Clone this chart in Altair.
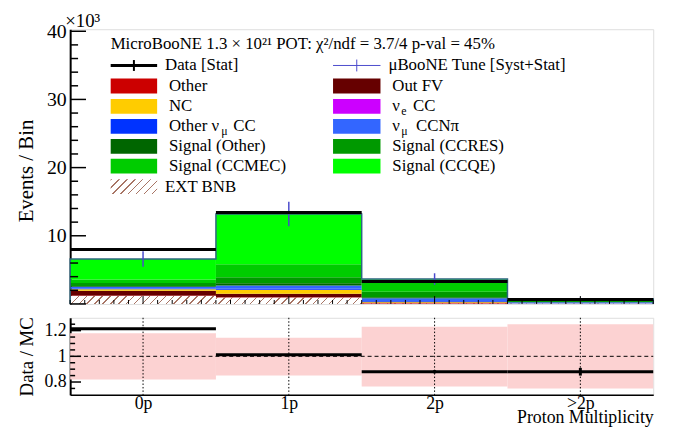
import json
import altair as alt
import pandas as pd

FONT = "Liberation Serif"

# ---------------- data ----------------
categories = ["0p", "1p", "2p", ">2p"]
bin_lo = [0, 1, 2, 3]
bin_hi = [1, 2, 3, 4]
bin_center = [0.5, 1.5, 2.5, 3.5]

# stacked MC components (x10^3 events), bottom to top
comp_names = ["EXT BNB", "Other", "Out FV", "NC", "nue CC", "Other numu CC",
              "numu CCNpi", "Signal (Other)", "Signal (CCRES)", "Signal (CCMEC)",
              "Signal (CCQE)"]
comp_colors = ["#ffffff", "#cc0000", "#660000", "#ffcc00", "#cc00ff", "#0033ff",
               "#3366ff", "#006600", "#009900", "#00cc00", "#00ff00"]
ext_bnb = [1.15, 0.90, 0.02, 0.01]
other = [0.10, 0.10, 0.12, 0.03]
out_fv = [0.70, 0.50, 0.08, 0.02]
nc = [0.20, 0.55, 0.10, 0.02]
nue_cc = [0.02, 0.02, 0.01, 0.00]
other_numu_cc = [0.10, 0.15, 0.10, 0.03]
numu_ccnpi = [0.25, 0.50, 0.40, 0.12]
sig_other = [0.10, 0.30, 0.15, 0.05]
sig_ccres = [0.47, 0.90, 0.80, 0.20]
sig_ccmec = [0.50, 1.90, 1.80, 0.25]
sig_ccqe = [3.00, 7.38, 0.07, 0.01]
comp_values = [ext_bnb, other, out_fv, nc, nue_cc, other_numu_cc, numu_ccnpi,
               sig_other, sig_ccres, sig_ccmec, sig_ccqe]

data_counts = [8.0, 13.4, 3.3, 0.66]
mc_err = [1.15, 1.80, 0.85, 0.18]

ratio = [1.215, 1.013, 0.88, 0.88]
ratio_err = [0.008, 0.006, 0.012, 0.03]
band_lo = [0.82, 0.85, 0.765, 0.75]
band_hi = [1.18, 1.145, 1.23, 1.25]

y_labels_top = [10, 20, 30, 40]
y_major_top = [0, 10, 20, 30, 40]
y_major_bot = [0.8, 1.0, 1.2]

# ---------------- layout ----------------
W = 590
TOP_H = 278
BOT_H = 78
YMAX = 40.3
RMIN, RMAX = 0.7, 1.3

xs = alt.Scale(domain=[0, 4], nice=False, zero=False)
ys = alt.Scale(domain=[0, YMAX], nice=False, zero=False)
rs = alt.Scale(domain=[RMIN, RMAX], nice=False, zero=False)

top_axis = alt.Axis(values=y_labels_top, ticks=False, grid=False, labelFont=FONT,
                    labelFontSize=20, labelPadding=4, labelColor="black",
                    domainColor="black", domainWidth=2,
                    title="Events / Bin", titleFont=FONT, titleFontSize=21,
                    titleFontWeight="normal", titleColor="black",
                    titleX=-44, titleY=143, titleBaseline="middle", titleAngle=270)
bot_axis = alt.Axis(values=y_major_bot, ticks=False, grid=False, labelFont=FONT,
                    labelFontSize=18, labelPadding=4, format="~g", labelColor="black",
                    domainColor="black", domainWidth=2,
                    title="Data / MC", titleFont=FONT, titleFontSize=19,
                    titleFontWeight="normal", titleColor="black",
                    titleX=-44, titleY=BOT_H / 2, titleBaseline="middle", titleAngle=270)
label_expr = json.dumps(categories) + "[floor(datum.value)]"
bot_xaxis = alt.Axis(values=bin_center, labelExpr=label_expr, ticks=False, grid=False,
                     labelFont=FONT, labelFontSize=18, labelPadding=0, labelColor="black",
                     domainColor="black", domainWidth=1.5,
                     title="Proton Multiplicity", titleFont=FONT, titleFontSize=18,
                     titleFontWeight="normal", titleColor="black",
                     titleX=W, titleY=28, titleAlign="right", titleBaseline="alphabetic")


def XT(f):
    return alt.X(f, type="quantitative", scale=xs, axis=None)


def YT(f):
    return alt.Y(f, type="quantitative", scale=ys, axis=top_axis)


def XB(f):
    return alt.X(f, type="quantitative", scale=xs, axis=bot_xaxis)


def YB(f):
    return alt.Y(f, type="quantitative", scale=rs, axis=bot_axis)


def hatch(Wpx, Hpx, period=8.0, frac=0.18, color="#a87565"):
    r = Hpx / Wpx
    s = (1 + r) / (1 + r * r)
    n = Wpx * (1 + r) / period
    stops = []
    k = 0
    while k / n < 1:
        t0 = k / n
        t1 = min((k + frac) / n, 1.0)
        stops += [{"offset": t0, "color": "white"}, {"offset": t0, "color": color},
                  {"offset": t1, "color": color}, {"offset": t1, "color": "white"}]
        k += 1
    stops.append({"offset": 1.0, "color": "white"})
    return {"gradient": "linear", "x1": 0, "y1": 0, "x2": s, "y2": s * r, "stops": stops}


# stacked table
rows = []
for i in range(4):
    base = 0.0
    for name, vals in zip(comp_names, comp_values):
        rows.append(dict(lo=bin_lo[i], hi=bin_hi[i], comp=name, y0=base, y1=base + vals[i]))
        base += vals[i]
stack_df = pd.DataFrame(rows)
mc_total = [sum(v[i] for v in comp_values) for i in range(4)]

dummy = alt.Data(values=[{}])

layers = []
layers.append(
    alt.Chart(stack_df[stack_df.comp != "EXT BNB"]).mark_rect(strokeWidth=0).encode(
        x=XT("lo"), x2="hi", y=YT("y0"), y2="y1",
        color=alt.Color("comp:N", scale=alt.Scale(domain=comp_names, range=comp_colors),
                        legend=None)))
for i in range(4):
    hpx = max(ext_bnb[i] / YMAX * TOP_H, 0.5)
    df = stack_df[(stack_df.comp == "EXT BNB") & (stack_df.lo == bin_lo[i])]
    layers.append(alt.Chart(df).mark_rect(fill=hatch(W / 4, hpx), strokeWidth=0).encode(
        x=XT("lo"), x2="hi", y=YT("y0"), y2="y1"))

# MC outline
step_df = pd.DataFrame({
    "x": [0, 0] + bin_hi[:-1] + [4, 4],
    "y": [0] + mc_total + [mc_total[-1], 0],
    "idx": list(range(7)),
})
layers.append(alt.Chart(step_df).mark_line(interpolate="step-after", color="#2d6680",
                                            strokeWidth=1.5).encode(
    x=XT("x"), y=YT("y"), order="idx:Q"))

mc_df = pd.DataFrame({"c": bin_center, "lo": bin_lo, "hi": bin_hi, "mc": mc_total,
                      "e0": [m - e for m, e in zip(mc_total, mc_err)],
                      "e1": [m + e for m, e in zip(mc_total, mc_err)],
                      "data": data_counts})
layers.append(alt.Chart(mc_df).mark_rule(color="#4a4acc", strokeWidth=1.5).encode(
    x=XT("c"), y=YT("e0"), y2="e1"))
layers.append(alt.Chart(mc_df).mark_rule(color="black", strokeWidth=3).encode(
    x=XT("lo"), x2="hi", y=YT("data")))

# inner ticks
y_minor_top = [v for v in range(0, 41, 2) if v not in y_major_top]
layers.append(alt.Chart(pd.DataFrame({"v": y_major_top})).mark_rule(color="black", strokeWidth=1.5).encode(
    y=YT("v"), x=alt.value(0), x2=alt.value(16)))
layers.append(alt.Chart(pd.DataFrame({"v": y_minor_top})).mark_rule(color="black", strokeWidth=1.5).encode(
    y=YT("v"), x=alt.value(0), x2=alt.value(8)))
x_minor = [j / 10 for j in range(0, 41) if j % 10 != 5]
layers.append(alt.Chart(pd.DataFrame({"v": x_minor})).mark_rule(color="black", strokeWidth=1).encode(
    x=XT("v"), y=alt.value(TOP_H), y2=alt.value(TOP_H - 4)))
layers.append(alt.Chart(pd.DataFrame({"v": bin_center})).mark_rule(color="black", strokeWidth=1).encode(
    x=XT("v"), y=alt.value(TOP_H), y2=alt.value(TOP_H - 8)))


# legend / annotations
def txt(t, x, y, size=17, align="left", baseline="middle"):
    return alt.Chart(dummy).mark_text(text=t, font=FONT, fontSize=size, align=align,
                                      baseline=baseline, color="black").encode(
        x=alt.value(x), y=alt.value(y))


def swatch(x0, x1, yc, fill):
    return alt.Chart(dummy).mark_rect(fill=fill, strokeWidth=0).encode(
        x=alt.value(x0), x2=alt.value(x1), y=alt.value(yc - 7.5), y2=alt.value(yc + 7.5))


def seg(x0, x1, y0, y1, color, w):
    return alt.Chart(dummy).mark_rule(color=color, strokeWidth=w).encode(
        x=alt.value(x0), x2=alt.value(x1), y=alt.value(y0), y2=alt.value(y1))


layers.append(txt("×10³", -5, -2, size=19, baseline="alphabetic"))
layers.append(txt("MicroBooNE 1.3 × 10²¹ POT: χ²/ndf = 3.7/4 p-val = 45%", 41, 15))

rowy = [36.7, 57.5, 78, 98.3, 118.5, 138.5, 159.3]
C1S, C1E, C1T = 41, 88, 100
C2S, C2E, C2T = 266, 314, 326

layers.append(seg(C1S, C1E, rowy[0], rowy[0], "black", 3))
layers.append(seg(64.5, 64.5, rowy[0] - 5.5, rowy[0] + 5.5, "black", 2))
layers.append(txt("Data [Stat]", 96, rowy[0]))
layers.append(seg(C2S, C2E, rowy[0], rowy[0], "#4a4acc", 1))
layers.append(seg(290, 290, rowy[0] - 6, rowy[0] + 6, "#4a4acc", 1))
layers.append(txt("μBooNE Tune [Syst+Stat]", 322, rowy[0]))

cmap = dict(zip(comp_names, comp_colors))
col1 = [("Other", 1), ("NC", 2), ("Other numu CC", 3), ("Signal (Other)", 4),
        ("Signal (CCMEC)", 5)]
col2 = [("Out FV", 1), ("nue CC", 2), ("numu CCNpi", 3), ("Signal (CCRES)", 4),
        ("Signal (CCQE)", 5)]
for name, r in col1:
    layers.append(swatch(C1S, C1E, rowy[r], cmap[name]))
for name, r in col2:
    layers.append(swatch(C2S, C2E, rowy[r], cmap[name]))
layers.append(swatch(C1S, C1E, rowy[6], hatch(C1E - C1S, 15)))

layers.append(txt("Other", C1T, rowy[1]))
layers.append(txt("NC", C1T, rowy[2]))
layers.append(txt("Other ν", C1T, rowy[3]))
layers.append(txt("μ", 153, rowy[3] + 5, size=12))
layers.append(txt("CC", 165, rowy[3]))
layers.append(txt("Signal (Other)", C1T, rowy[4]))
layers.append(txt("Signal (CCMEC)", C1T, rowy[5]))
layers.append(txt("EXT BNB", 96, rowy[6]))

layers.append(txt("Out FV", C2T, rowy[1]))
layers.append(txt("ν", C2T, rowy[2]))
layers.append(txt("e", 335, rowy[2] + 5, size=12))
layers.append(txt("CC", 347, rowy[2]))
layers.append(txt("ν", C2T, rowy[3]))
layers.append(txt("μ", 335, rowy[3] + 5, size=12))
layers.append(txt("CCNπ", 350, rowy[3]))
layers.append(txt("Signal (CCRES)", C2T, rowy[4]))
layers.append(txt("Signal (CCQE)", C2T, rowy[5]))

top = alt.layer(*layers).properties(width=W, height=TOP_H)

# ---------------- ratio panel ----------------
rdf = pd.DataFrame({"lo": bin_lo, "hi": bin_hi, "c": bin_center, "r": ratio,
                    "r0": [a - b for a, b in zip(ratio, ratio_err)],
                    "r1": [a + b for a, b in zip(ratio, ratio_err)],
                    "b0": band_lo, "b1": band_hi})
blayers = []
blayers.append(alt.Chart(rdf).mark_rect(color="#fcd2d2", strokeWidth=0).encode(
    x=XB("lo"), x2="hi", y=YB("b0"), y2="b1"))
blayers.append(alt.Chart(pd.DataFrame({"v": [1.0]})).mark_rule(color="black", strokeWidth=1,
                                                               strokeDash=[4, 3]).encode(
    y=YB("v"), x=alt.value(0), x2=alt.value(W)))
blayers.append(alt.Chart(rdf).mark_rule(color="black", strokeWidth=1, strokeDash=[1.5, 2]).encode(
    x=XB("c"), y=alt.value(0), y2=alt.value(BOT_H)))
blayers.append(alt.Chart(rdf).mark_rule(color="black", strokeWidth=3).encode(
    x=XB("lo"), x2="hi", y=YB("r")))
blayers.append(alt.Chart(rdf).mark_rule(color="black", strokeWidth=3).encode(
    x=XB("c"), y=YB("r0"), y2="r1"))
y_minor_bot = [0.75, 0.85, 0.9, 0.95, 1.05, 1.1, 1.15, 1.25]
blayers.append(alt.Chart(pd.DataFrame({"v": y_major_bot})).mark_rule(color="black", strokeWidth=1.5).encode(
    y=YB("v"), x=alt.value(0), x2=alt.value(11)))
blayers.append(alt.Chart(pd.DataFrame({"v": y_minor_bot})).mark_rule(color="black", strokeWidth=1.5).encode(
    y=YB("v"), x=alt.value(0), x2=alt.value(5)))

bottom = alt.layer(*blayers).properties(width=W, height=BOT_H)

chart = alt.vconcat(top, bottom, spacing=8).properties(
    padding={"left": 15, "top": 9, "right": 16, "bottom": 0}
).configure_view(stroke="black", strokeWidth=1.5).configure(background="white")

chart.save("out.html", embed_options={"renderer": "svg", "actions": False})
